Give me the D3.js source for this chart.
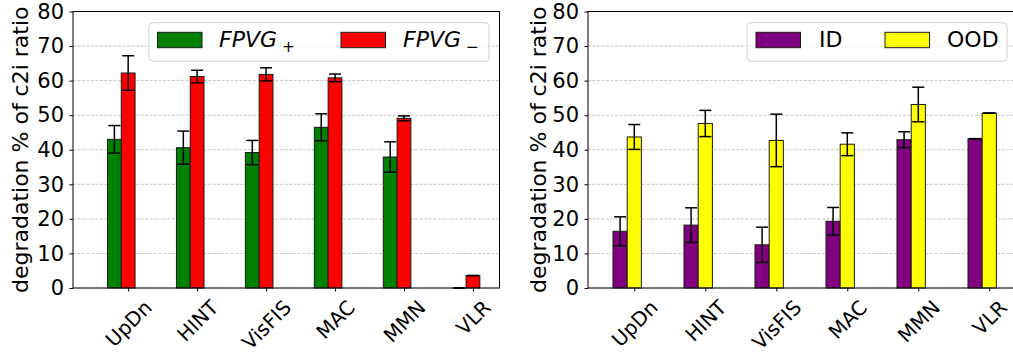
<!DOCTYPE html>
<html>
<head>
<meta charset="utf-8">
<script src="https://cdn.jsdelivr.net/npm/d3@7"></script>
<style>
  body { margin: 0; background: #fff; }
  svg { display: block; font-family: "DejaVu Sans", sans-serif; }
</style>
</head>
<body>
<div id="chart"></div>
<script>
// models on the x axis
const models = ["UpDn", "HINT", "VisFIS", "MAC", "MMN", "VLR"];

// left panel : FPVG+ / FPVG-
const fpvgPlus = [43.0, 40.6, 39.2, 46.5, 37.9, 0.0];
const fpvgPlusErr = [4.0, 4.8, 3.5, 3.9, 4.4, 0.0];
const fpvgMinus = [62.2, 61.2, 61.8, 60.8, 49.1, 3.6];
const fpvgMinusErr = [5.0, 1.8, 1.9, 1.1, 0.7, 0.0];

// right panel : ID / OOD
const idVals = [16.4, 18.2, 12.5, 19.3, 42.9, 43.2];
const idErr = [4.2, 5.0, 5.1, 4.0, 2.3, 0.0];
const oodVals = [43.7, 47.6, 42.7, 41.6, 53.1, 50.6];
const oodErr = [3.6, 3.8, 7.6, 3.3, 5.0, 0.0];

const yTicks = [0, 10, 20, 30, 40, 50, 60, 70, 80];
const yLabel = "degradation % of c2i ratio";

const W = 1013, H = 354;
const svg = d3.select("#chart").append("svg")
    .attr("width", W)
    .attr("height", H);

const plotTop = 11.5, plotBottom = 288;
const barW = 0.2;

function drawPanel(p) {
    const x = d3.scaleLinear().domain(p.xDomain).range([p.left, p.right]);
    const y = d3.scaleLinear().domain([0, 80]).range([plotBottom, plotTop]);
    const g = svg.append("g");

    // grille horizontale
    g.append("g").selectAll("line")
        .data(yTicks)
        .enter().append("line")
        .attr("x1", p.left).attr("x2", p.right)
        .attr("y1", d => y(d)).attr("y2", d => y(d))
        .attr("stroke", "#b8b8b8")
        .attr("stroke-width", 0.8)
        .attr("stroke-dasharray", "3,1.5");

    // barres + barres d'erreur, une série après l'autre
    p.series.forEach(s => {
        const sg = g.append("g");
        sg.selectAll("rect")
            .data(s.values)
            .enter().append("rect")
            .attr("x", (d, i) => x(i + s.offset - barW / 2))
            .attr("width", (d, i) => x(i + s.offset + barW / 2) - x(i + s.offset - barW / 2))
            .attr("y", d => y(d))
            .attr("height", d => y(0) - y(d))
            .attr("fill", s.color)
            .attr("stroke", "#1a1a1a")
            .attr("stroke-width", 1);

        const eb = sg.selectAll(".err")
            .data(s.values.map((v, i) => ({ v: v, e: s.err[i], i: i })))
            .enter().append("g")
            .attr("class", "err")
            .attr("stroke", "#000")
            .attr("stroke-width", 1.5);
        eb.append("line")
            .attr("x1", d => x(d.i + s.offset)).attr("x2", d => x(d.i + s.offset))
            .attr("y1", d => y(d.v - d.e)).attr("y2", d => y(d.v + d.e));
        [-1, 1].forEach(sign => {
            eb.append("line")
                .attr("x1", d => x(d.i + s.offset) - 6).attr("x2", d => x(d.i + s.offset) + 6)
                .attr("y1", d => y(d.v + sign * d.e)).attr("y2", d => y(d.v + sign * d.e));
        });
    });

    // cadre
    g.append("rect")
        .attr("x", p.left).attr("y", plotTop)
        .attr("width", p.right - p.left).attr("height", plotBottom - plotTop)
        .attr("fill", "none")
        .attr("stroke", "#000")
        .attr("stroke-width", 1);

    // axe y
    const yAxis = g.append("g")
        .attr("transform", "translate(" + p.left + ",0)")
        .call(d3.axisLeft(y).tickValues(yTicks).tickSize(3.5).tickSizeOuter(0).tickPadding(5.5));
    yAxis.select(".domain").remove();
    yAxis.selectAll("text")
        .attr("font-size", 21)
        .attr("font-family", "DejaVu Sans")
        .attr("fill", "#000");

    // axe x
    const xAxis = g.append("g")
        .attr("transform", "translate(0," + plotBottom + ")")
        .call(d3.axisBottom(x).tickValues(d3.range(models.length))
            .tickFormat(i => models[i]).tickSize(3.5).tickSizeOuter(0));
    xAxis.select(".domain").remove();
    xAxis.selectAll("text")
        .attr("font-size", 20)
        .attr("font-family", "DejaVu Sans")
        .attr("fill", "#000")
        .attr("text-anchor", "middle")
        .attr("y", 0)
        .attr("dy", "0.35em")
        .attr("transform", function () {
            const w = this.getComputedTextLength();
            const cy = 9.5 + (w + 18) / (2 * Math.SQRT2);
            return "translate(0," + cy + ") rotate(-45)";
        });

    // titre axe y
    g.append("text")
        .attr("transform", "translate(" + p.labelX + "," + ((plotTop + plotBottom) / 2) + ") rotate(-90)")
        .attr("text-anchor", "middle")
        .attr("font-size", 22)
        .text(yLabel);

    // légende
    const lg = g.append("g");
    lg.append("rect")
        .attr("x", p.legend.x).attr("y", 22.7)
        .attr("width", p.legend.w).attr("height", 38.6)
        .attr("rx", 4)
        .attr("fill", "#fff").attr("fill-opacity", 0.8)
        .attr("stroke", "#d0d0d0");
    p.series.forEach((s, k) => {
        const it = p.legend.items[k];
        lg.append("rect")
            .attr("x", it.px).attr("y", 32.3)
            .attr("width", 44.5).attr("height", 15.4)
            .attr("fill", s.color)
            .attr("stroke", "#1a1a1a");
        const t = lg.append("text")
            .attr("x", it.tx).attr("y", 47.3)
            .attr("font-size", 22);
        if (s.sub) {
            t.append("tspan").attr("font-style", "italic").text(s.name);
            t.append("tspan").attr("font-size", 15.4).attr("dx", 5).attr("dy", 4.8).text(s.sub);
        } else {
            t.text(s.name);
        }
    });
}

drawPanel({
    left: 73, right: 499.5,
    xDomain: [-0.8, 5.385],
    labelX: 27.5,
    series: [
        { name: "FPVG", sub: "+", values: fpvgPlus, err: fpvgPlusErr, color: "#008000", offset: -0.2 },
        { name: "FPVG", sub: "\u2212", values: fpvgMinus, err: fpvgMinusErr, color: "#ff0000", offset: 0 }
    ],
    legend: { x: 149, w: 340, items: [{ px: 157.5, tx: 219 }, { px: 341, tx: 403 }] }
});

drawPanel({
    left: 588, right: 1014,
    xDomain: [-0.652, 5.348],
    labelX: 546,
    series: [
        { name: "ID", values: idVals, err: idErr, color: "#800080", offset: -0.2 },
        { name: "OOD", values: oodVals, err: oodErr, color: "#ffff00", offset: 0 }
    ],
    legend: { x: 747, w: 260, items: [{ px: 756, tx: 819 }, { px: 885, tx: 947 }] }
});
</script>
</body>
</html>
